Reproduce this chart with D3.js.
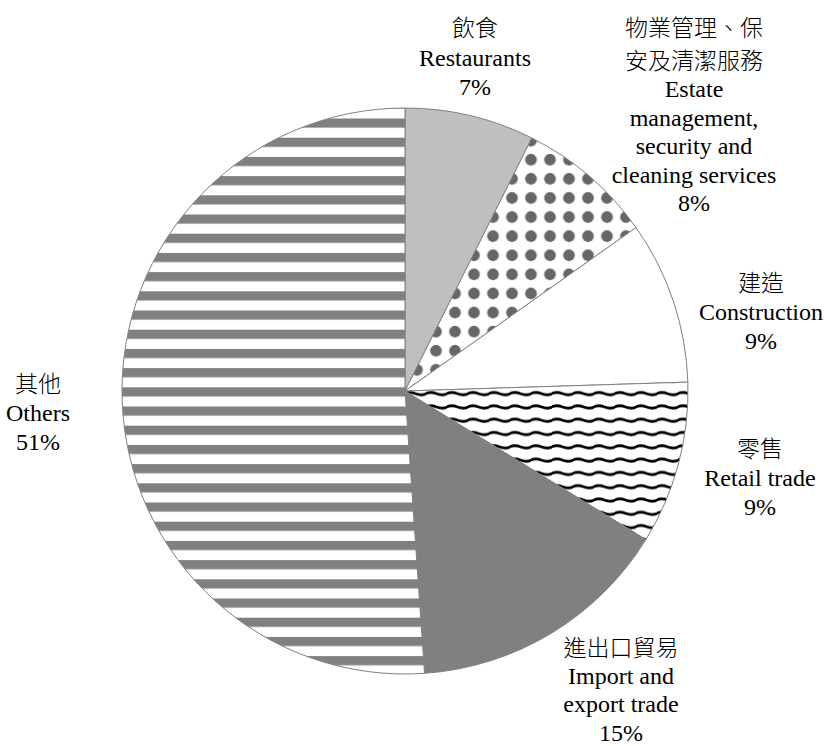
<!DOCTYPE html>
<html><head><meta charset="utf-8">
<script src="https://cdn.jsdelivr.net/npm/d3@7"></script>
<style>
body{margin:0;background:#fff}
.lat{font-family:"Liberation Serif","Times New Roman",Times,serif;font-size:24px}
.zh{font-family:"Noto Sans CJK TC","Noto Sans CJK SC",sans-serif;font-weight:300;font-size:23px}
</style>
</head><body><svg id="c" width="825" height="746"></svg>
<script>
const categoriesZh = ["飲食", "物業管理、保|安及清潔服務", "建造", "零售", "進出口貿易", "其他"];
const categoriesEn = ["Restaurants", "Estate|management,|security and|cleaning services", "Construction", "Retail trade", "Import and|export trade", "Others"];
const values = [7.4, 7.8, 9.3, 9.3, 15.1, 51.1];
const percentLabels = ["7%", "8%", "9%", "9%", "15%", "51%"];

const cx = 405, cy = 391, R = 283;
const svg = d3.select("#c");
const defs = svg.append("defs");

// dots pattern
const pd = defs.append("pattern").attr("id","dots").attr("patternUnits","userSpaceOnUse")
  .attr("width",19).attr("height",19.1).attr("x",2.5).attr("y",7.5);
pd.append("rect").attr("width",19).attr("height",19.1).attr("fill","#fff");
pd.append("circle").attr("cx",9.5).attr("cy",9.55).attr("r",5.9).attr("fill","#666");

// waves pattern
const pw = defs.append("pattern").attr("id","waves").attr("patternUnits","userSpaceOnUse")
  .attr("width",21).attr("height",13.3).attr("x",0).attr("y",395);
pw.append("rect").attr("width",21).attr("height",13.3).attr("fill","#fff");
pw.append("path").attr("d","M-0.5,6.65 Q4.75,4.4 10.5,6.65 T21.5,6.65").attr("fill","none").attr("stroke","#000").attr("stroke-width",2.8);

// stripes pattern
const ps = defs.append("pattern").attr("id","stripes").attr("patternUnits","userSpaceOnUse")
  .attr("width",10).attr("height",19.2).attr("x",0).attr("y",111.5);
ps.append("rect").attr("width",10).attr("height",19.2).attr("fill","#fff");
ps.append("rect").attr("width",10).attr("height",9.2).attr("fill","#808080");

const fills = ["#bfbfbf","url(#dots)","#ffffff","url(#waves)","#808080","url(#stripes)"];

const pie = d3.pie().sort(null).value(d=>d)(values);
const arc = d3.arc().innerRadius(0).outerRadius(R);
const g = svg.append("g").attr("transform",`translate(${cx},${cy})`);
g.selectAll("path").data(pie).join("path")
  .attr("d",arc)
  .attr("fill",(d,i)=>fills[i])
  .attr("stroke","#808080").attr("stroke-width",1);

// label layout: centre x, first baseline y, step CJK->CJK, step CJK->Latin, step Latin->Latin
const labelPos = [
  [475,36,32.5,30,29],
  [694,36,32.5,28.8,28.4],
  [761,291,28.8,28.8,28.8],
  [760,457,28.8,28.8,28.8],
  [621,656,28.2,28.2,28.2],
  [38,392,28.8,28.8,28.8]
];
values.forEach((v,i)=>{
  const lines = [];
  categoriesZh[i].split("|").forEach(t=>lines.push({t,zh:true}));
  categoriesEn[i].split("|").forEach(t=>lines.push({t,zh:false}));
  lines.push({t:percentLabels[i],zh:false});
  const [x0,y0,sZZ,sZL,sLL] = labelPos[i];
  const t = svg.append("text").attr("text-anchor","middle").attr("fill","#000");
  let y = y0;
  lines.forEach((l,k)=>{
    if(k>0){
      const p = lines[k-1].zh;
      y += (p && l.zh) ? sZZ : (p ? sZL : sLL);
    }
    t.append("tspan").attr("x",x0).attr("y",y)
      .attr("class", l.zh ? "zh" : "lat")
      .text(l.t);
  });
});
</script></body></html>
